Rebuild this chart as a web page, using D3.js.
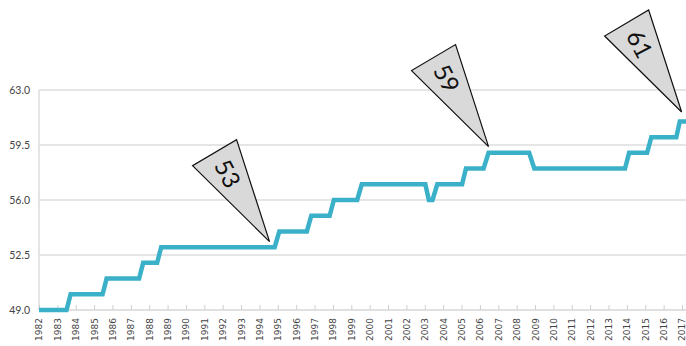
<!DOCTYPE html>
<html>
<head>
<meta charset="utf-8">
<script src="https://cdn.jsdelivr.net/npm/d3@7"></script>
<style>
  html, body { margin: 0; padding: 0; background: #fff; }
  svg { display: block; }
</style>
</head>
<body>
<script>
// ---- data ----
const years = d3.range(1982, 2018);
const yTicks = [49.0, 52.5, 56.0, 59.5, 63.0];
// vertices of the line (fractional years and values)
const vertexYears = [1982, 1983.5, 1983.72, 1985.46, 1985.68, 1987.45, 1987.67, 1988.43, 1988.65,
  1994.83, 1995.08, 1996.58, 1996.82, 1997.82, 1998.05, 1999.32, 1999.57, 2003.03, 2003.22,
  2003.42, 2003.68, 2005.03, 2005.24, 2006.2, 2006.47, 2008.68, 2008.96, 2013.9, 2014.12,
  2015.1, 2015.33, 2016.69, 2016.88, 2017.3];
const vertexValues = [49, 49, 50, 50, 51, 51, 52, 52, 53,
  53, 54, 54, 55, 55, 56, 56, 57, 57, 56,
  56, 57, 57, 58, 58, 59, 59, 58, 58, 59,
  59, 60, 60, 61, 61];
// callouts
const calloutLabels = ["53", "59", "61"];
const calloutYears = [1994.55, 2006.47, 2016.98];
const calloutValues = [53.35, 59.4, 61.6];

// ---- chart ----
const W = 686, H = 346;
const svg = d3.select("body").append("svg").attr("width", W).attr("height", H);

const x = d3.scaleLinear().domain([1982, 2017]).range([39, 682]);
const y = d3.scaleLinear().domain([49, 63]).range([310, 90]);

// gridlines
svg.append("g").selectAll("line")
  .data(yTicks.filter(d => d > 49))
  .join("line")
  .attr("x1", x(1982)).attr("x2", W)
  .attr("y1", d => y(d)).attr("y2", d => y(d))
  .attr("stroke", "#dcdcdc").attr("stroke-width", 1.5);

// left axis line
svg.append("line")
  .attr("x1", x(1982)).attr("x2", x(1982))
  .attr("y1", y(63)).attr("y2", y(49))
  .attr("stroke", "#dcdcdc").attr("stroke-width", 1.5);

// y labels
const yAxis = d3.axisLeft(y).tickValues(yTicks).tickSize(0).tickPadding(9).tickFormat(d3.format(".1f"));
const gy = svg.append("g").attr("transform", `translate(${x(1982)},0)`).call(yAxis);
gy.select(".domain").remove();
gy.selectAll("text").attr("font-family", "Lato, sans-serif").attr("font-size", 10.5).attr("fill", "#444");

// x axis
const xAxis = d3.axisBottom(x).tickValues(years).tickSize(-5).tickFormat(d3.format("d"));
const gx = svg.append("g").attr("transform", `translate(0,${y(49)})`).call(xAxis);
gx.select(".domain").attr("d", `M${x(1982)},0H${W}`).attr("stroke", "#d6d6d6").attr("stroke-width", 1.5);
gx.selectAll(".tick line").attr("stroke", "#cfcfcf").attr("stroke-width", 1);
gx.selectAll("text")
  .attr("transform", "rotate(-90)")
  .attr("x", -8).attr("y", 0).attr("dy", "0.33em")
  .attr("text-anchor", "end")
  .attr("font-family", "'DejaVu Sans', sans-serif")
  .attr("font-size", 9)
  .attr("fill", "#444");

// line
const pts = vertexYears.map((v, i) => [v, vertexValues[i]]);
const line = d3.line().x(d => x(d[0])).y(d => y(d[1]));
svg.append("path")
  .attr("d", line(pts))
  .attr("fill", "none")
  .attr("stroke", "#3bb0c9")
  .attr("stroke-width", 4.5)
  .attr("stroke-linejoin", "miter");

// callouts
const angle = Math.atan2(89, 55) * 180 / Math.PI + 4;
const cg = svg.append("g").selectAll("g")
  .data(calloutLabels.map((l, i) => ({ label: l, year: calloutYears[i], value: calloutValues[i] })))
  .join("g")
  .attr("transform", d => `translate(${x(d.year)},${y(d.value)})`);
cg.append("path")
  .attr("d", "M0,0L-77,-76L-33,-102Z")
  .attr("fill", "#d9d9d9")
  .attr("stroke", "#111")
  .attr("stroke-width", 1.2)
  .attr("stroke-linejoin", "miter");
cg.append("text")
  .attr("transform", `translate(-42,-68) rotate(${angle})`)
  .attr("text-anchor", "middle")
  .attr("dy", "0.36em")
  .attr("font-family", "Lato, sans-serif")
  .attr("font-size", 24)
  .attr("fill", "#111")
  .text(d => d.label);
</script>
</body>
</html>
